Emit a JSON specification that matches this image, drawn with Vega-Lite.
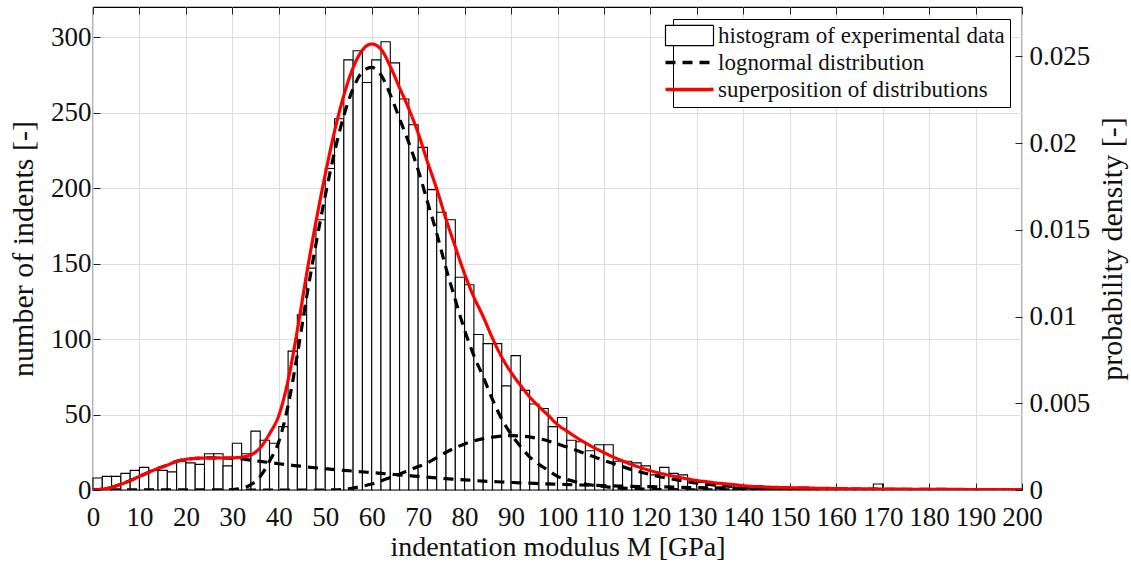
{
"$schema": "https://vega.github.io/schema/vega-lite/v6.json",
"width": 929, "height": 483,
"autosize": {"type": "none"},
"padding": {"left": 93, "top": 7, "right": 109, "bottom": 72},
"background": "white",
"config": {
  "font": "Liberation Serif",
  "view": {"stroke": "black", "strokeWidth": 1.2},
  "axis": {"labelFont": "Liberation Serif", "titleFont": "Liberation Serif", "labelFontSize": 27, "titleFontSize": 30, "labelColor": "#111", "titleColor": "#111", "titleFontWeight": "normal", "domain": false, "tickColor": "#222", "tickSize": -7, "tickWidth": 1, "gridColor": "#dedede", "gridWidth": 1}
},
"datasets": {
  "hist": [
{"lo":0,"hi":2,"n":8},{"lo":2,"hi":4,"n":9},{"lo":4,"hi":6,"n":9},{"lo":6,"hi":8,"n":11},{"lo":8,"hi":10,"n":13},{"lo":10,"hi":12,"n":15},{"lo":12,"hi":14,"n":13},{"lo":14,"hi":16,"n":13},{"lo":16,"hi":18,"n":12},{"lo":18,"hi":20,"n":19},
{"lo":20,"hi":22,"n":18},{"lo":22,"hi":24,"n":17},{"lo":24,"hi":26,"n":24},{"lo":26,"hi":28,"n":24},{"lo":28,"hi":30,"n":16},{"lo":30,"hi":32,"n":31},{"lo":32,"hi":34,"n":24},{"lo":34,"hi":36,"n":39},{"lo":36,"hi":38,"n":33},{"lo":38,"hi":40,"n":31},
{"lo":40,"hi":42,"n":42},{"lo":42,"hi":44,"n":92},{"lo":44,"hi":46,"n":116},{"lo":46,"hi":48,"n":147},{"lo":48,"hi":50,"n":179},{"lo":50,"hi":52,"n":213},{"lo":52,"hi":54,"n":246},{"lo":54,"hi":56,"n":285},{"lo":56,"hi":58,"n":291},{"lo":58,"hi":60,"n":270},
{"lo":60,"hi":62,"n":285},{"lo":62,"hi":64,"n":297},{"lo":64,"hi":66,"n":283},{"lo":66,"hi":68,"n":259},{"lo":68,"hi":70,"n":242},{"lo":70,"hi":72,"n":227},{"lo":72,"hi":74,"n":199},{"lo":74,"hi":76,"n":184},{"lo":76,"hi":78,"n":179},{"lo":78,"hi":80,"n":141},
{"lo":80,"hi":82,"n":136},{"lo":82,"hi":84,"n":103},{"lo":84,"hi":86,"n":97},{"lo":86,"hi":88,"n":97},{"lo":88,"hi":90,"n":69},{"lo":90,"hi":92,"n":89},{"lo":92,"hi":94,"n":66},{"lo":94,"hi":96,"n":57},{"lo":96,"hi":98,"n":54},{"lo":98,"hi":100,"n":42},
{"lo":100,"hi":102,"n":48},{"lo":102,"hi":104,"n":33},{"lo":104,"hi":106,"n":32},{"lo":106,"hi":108,"n":26},{"lo":108,"hi":110,"n":30},{"lo":110,"hi":112,"n":30},{"lo":112,"hi":114,"n":19},{"lo":114,"hi":116,"n":19},{"lo":116,"hi":118,"n":18},{"lo":118,"hi":120,"n":16},
{"lo":120,"hi":122,"n":10},{"lo":122,"hi":124,"n":15},{"lo":124,"hi":126,"n":11},{"lo":126,"hi":128,"n":10},{"lo":128,"hi":130,"n":7},{"lo":130,"hi":132,"n":5},{"lo":132,"hi":134,"n":4},{"lo":134,"hi":136,"n":4},{"lo":136,"hi":138,"n":3},{"lo":138,"hi":140,"n":3},
{"lo":140,"hi":142,"n":3},{"lo":142,"hi":144,"n":3},{"lo":144,"hi":146,"n":2},{"lo":146,"hi":148,"n":2},{"lo":148,"hi":150,"n":2},{"lo":150,"hi":152,"n":1},{"lo":152,"hi":154,"n":2},{"lo":154,"hi":156,"n":1},{"lo":156,"hi":158,"n":1},{"lo":158,"hi":160,"n":1},
{"lo":160,"hi":162,"n":1},{"lo":162,"hi":164,"n":1},{"lo":164,"hi":166,"n":1},{"lo":166,"hi":168,"n":1},{"lo":168,"hi":170,"n":4},{"lo":170,"hi":172,"n":1},{"lo":172,"hi":174,"n":0},{"lo":174,"hi":176,"n":1},{"lo":176,"hi":178,"n":1},{"lo":178,"hi":180,"n":0},
{"lo":180,"hi":182,"n":1},{"lo":182,"hi":184,"n":0},{"lo":184,"hi":186,"n":1},{"lo":186,"hi":188,"n":0},{"lo":188,"hi":190,"n":1},{"lo":190,"hi":192,"n":0},{"lo":192,"hi":194,"n":0},{"lo":194,"hi":196,"n":1},{"lo":196,"hi":198,"n":0},{"lo":198,"hi":200,"n":1}
  ],
  "curves": [
{"c":"L1","t":"L","x":0,"p":0},{"c":"L1","t":"L","x":2,"p":0.0000522},{"c":"L1","t":"L","x":4,"p":0.000157},{"c":"L1","t":"L","x":6,"p":0.000331},{"c":"L1","t":"L","x":8,"p":0.00054},{"c":"L1","t":"L","x":10,"p":0.000783},{"c":"L1","t":"L","x":12,"p":0.001027},{"c":"L1","t":"L","x":14,"p":0.001244},{"c":"L1","t":"L","x":16,"p":0.001436},{"c":"L1","t":"L","x":18,"p":0.001653},{"c":"L1","t":"L","x":20,"p":0.001767},{"c":"L1","t":"L","x":22,"p":0.001819},{"c":"L1","t":"L","x":24,"p":0.001845},{"c":"L1","t":"L","x":26,"p":0.001854},{"c":"L1","t":"L","x":28,"p":0.001845},{"c":"L1","t":"L","x":30,"p":0.001828},{"c":"L1","t":"L","x":32,"p":0.001793},{"c":"L1","t":"L","x":34,"p":0.001714},{"c":"L1","t":"L","x":36,"p":0.001653},{"c":"L1","t":"L","x":38,"p":0.001584},{"c":"L1","t":"L","x":40,"p":0.001514},{"c":"L1","t":"L","x":42,"p":0.001453},{"c":"L1","t":"L","x":44,"p":0.001392},{"c":"L1","t":"L","x":46,"p":0.001331},{"c":"L1","t":"L","x":48,"p":0.001279},{"c":"L1","t":"L","x":50,"p":0.001227},{"c":"L1","t":"L","x":52,"p":0.001175},{"c":"L1","t":"L","x":54,"p":0.001131},{"c":"L1","t":"L","x":56,"p":0.001088},{"c":"L1","t":"L","x":58,"p":0.001044},{"c":"L1","t":"L","x":60,"p":0.001001},{"c":"L1","t":"L","x":62,"p":0.000957},{"c":"L1","t":"L","x":64,"p":0.000914},{"c":"L1","t":"L","x":66,"p":0.00087},{"c":"L1","t":"L","x":68,"p":0.000827},{"c":"L1","t":"L","x":70,"p":0.000783},{"c":"L1","t":"L","x":72,"p":0.00074},{"c":"L1","t":"L","x":74,"p":0.000696},{"c":"L1","t":"L","x":76,"p":0.000653},{"c":"L1","t":"L","x":78,"p":0.000618},{"c":"L1","t":"L","x":80,"p":0.000583},{"c":"L1","t":"L","x":82,"p":0.000548},{"c":"L1","t":"L","x":84,"p":0.000513},{"c":"L1","t":"L","x":86,"p":0.000487},{"c":"L1","t":"L","x":88,"p":0.000461},{"c":"L1","t":"L","x":90,"p":0.000435},{"c":"L1","t":"L","x":92,"p":0.000409},{"c":"L1","t":"L","x":94,"p":0.000392},{"c":"L1","t":"L","x":96,"p":0.000366},{"c":"L1","t":"L","x":98,"p":0.000348},{"c":"L1","t":"L","x":100,"p":0.000331},{"c":"L1","t":"L","x":105,"p":0.000287},{"c":"L1","t":"L","x":110,"p":0.000252},{"c":"L1","t":"L","x":115,"p":0.000218},{"c":"L1","t":"L","x":120,"p":0.000191},{"c":"L1","t":"L","x":125,"p":0.000165},{"c":"L1","t":"L","x":130,"p":0.000139},{"c":"L1","t":"L","x":135,"p":0.000122},{"c":"L1","t":"L","x":140,"p":0.000104},{"c":"L1","t":"L","x":150,"p":0.0000783},{"c":"L1","t":"L","x":160,"p":0.000061},{"c":"L1","t":"L","x":170,"p":0.0000435},{"c":"L1","t":"L","x":180,"p":0.0000348},{"c":"L1","t":"L","x":190,"p":0.0000261},{"c":"L1","t":"L","x":200,"p":0.0000218},
{"c":"L2","t":"L","x":0,"p":0},{"c":"L2","t":"L","x":28,"p":0},{"c":"L2","t":"L","x":30,"p":0.000026},{"c":"L2","t":"L","x":32,"p":0.000104},{"c":"L2","t":"L","x":34,"p":0.000305},{"c":"L2","t":"L","x":36,"p":0.000783},{"c":"L2","t":"L","x":38,"p":0.001653},{"c":"L2","t":"L","x":40,"p":0.002785},{"c":"L2","t":"L","x":42,"p":0.004873},{"c":"L2","t":"L","x":44,"p":0.007832},{"c":"L2","t":"L","x":46,"p":0.011139},{"c":"L2","t":"L","x":48,"p":0.014185},{"c":"L2","t":"L","x":50,"p":0.01697},{"c":"L2","t":"L","x":52,"p":0.019494},{"c":"L2","t":"L","x":54,"p":0.021582},{"c":"L2","t":"L","x":56,"p":0.023149},{"c":"L2","t":"L","x":58,"p":0.024106},{"c":"L2","t":"L","x":60,"p":0.024367},{"c":"L2","t":"L","x":62,"p":0.023932},{"c":"L2","t":"L","x":64,"p":0.022801},{"c":"L2","t":"L","x":66,"p":0.021408},{"c":"L2","t":"L","x":68,"p":0.020016},{"c":"L2","t":"L","x":70,"p":0.018449},{"c":"L2","t":"L","x":72,"p":0.016622},{"c":"L2","t":"L","x":74,"p":0.014794},{"c":"L2","t":"L","x":76,"p":0.012793},{"c":"L2","t":"L","x":78,"p":0.010965},{"c":"L2","t":"L","x":80,"p":0.009225},{"c":"L2","t":"L","x":82,"p":0.007745},{"c":"L2","t":"L","x":84,"p":0.006527},{"c":"L2","t":"L","x":86,"p":0.005222},{"c":"L2","t":"L","x":88,"p":0.00409},{"c":"L2","t":"L","x":90,"p":0.00322},{"c":"L2","t":"L","x":92,"p":0.002524},{"c":"L2","t":"L","x":94,"p":0.001915},{"c":"L2","t":"L","x":96,"p":0.001479},{"c":"L2","t":"L","x":98,"p":0.001131},{"c":"L2","t":"L","x":100,"p":0.000783},{"c":"L2","t":"L","x":102,"p":0.000609},{"c":"L2","t":"L","x":104,"p":0.000461},{"c":"L2","t":"L","x":106,"p":0.000348},{"c":"L2","t":"L","x":108,"p":0.000261},{"c":"L2","t":"L","x":110,"p":0.0002},{"c":"L2","t":"L","x":112,"p":0.000139},{"c":"L2","t":"L","x":114,"p":0.000104},{"c":"L2","t":"L","x":116,"p":0.0000783},{"c":"L2","t":"L","x":118,"p":0.0000522},{"c":"L2","t":"L","x":120,"p":0.0000392},{"c":"L2","t":"L","x":125,"p":0.0000174},{"c":"L2","t":"L","x":130,"p":0.0000087},{"c":"L2","t":"L","x":140,"p":0.0000017},{"c":"L2","t":"L","x":150,"p":0},{"c":"L2","t":"L","x":200,"p":0},
{"c":"L3","t":"L","x":0,"p":0},{"c":"L3","t":"L","x":50,"p":0},{"c":"L3","t":"L","x":52,"p":0.0000087},{"c":"L3","t":"L","x":54,"p":0.0000435},{"c":"L3","t":"L","x":56,"p":0.000113},{"c":"L3","t":"L","x":58,"p":0.000218},{"c":"L3","t":"L","x":60,"p":0.000348},{"c":"L3","t":"L","x":62,"p":0.000522},{"c":"L3","t":"L","x":64,"p":0.000714},{"c":"L3","t":"L","x":66,"p":0.000914},{"c":"L3","t":"L","x":68,"p":0.001131},{"c":"L3","t":"L","x":70,"p":0.001349},{"c":"L3","t":"L","x":72,"p":0.001566},{"c":"L3","t":"L","x":74,"p":0.001871},{"c":"L3","t":"L","x":76,"p":0.002176},{"c":"L3","t":"L","x":78,"p":0.002437},{"c":"L3","t":"L","x":80,"p":0.002654},{"c":"L3","t":"L","x":82,"p":0.002828},{"c":"L3","t":"L","x":84,"p":0.002959},{"c":"L3","t":"L","x":86,"p":0.003046},{"c":"L3","t":"L","x":88,"p":0.003107},{"c":"L3","t":"L","x":90,"p":0.003133},{"c":"L3","t":"L","x":92,"p":0.003115},{"c":"L3","t":"L","x":94,"p":0.003063},{"c":"L3","t":"L","x":96,"p":0.002959},{"c":"L3","t":"L","x":98,"p":0.002828},{"c":"L3","t":"L","x":100,"p":0.002654},{"c":"L3","t":"L","x":102,"p":0.00248},{"c":"L3","t":"L","x":104,"p":0.002289},{"c":"L3","t":"L","x":106,"p":0.002089},{"c":"L3","t":"L","x":108,"p":0.001897},{"c":"L3","t":"L","x":110,"p":0.001706},{"c":"L3","t":"L","x":112,"p":0.001523},{"c":"L3","t":"L","x":114,"p":0.001349},{"c":"L3","t":"L","x":116,"p":0.001175},{"c":"L3","t":"L","x":118,"p":0.001027},{"c":"L3","t":"L","x":120,"p":0.000888},{"c":"L3","t":"L","x":122,"p":0.000766},{"c":"L3","t":"L","x":124,"p":0.000661},{"c":"L3","t":"L","x":126,"p":0.000566},{"c":"L3","t":"L","x":128,"p":0.000479},{"c":"L3","t":"L","x":130,"p":0.0004},{"c":"L3","t":"L","x":132,"p":0.000339},{"c":"L3","t":"L","x":134,"p":0.000278},{"c":"L3","t":"L","x":136,"p":0.000235},{"c":"L3","t":"L","x":138,"p":0.000191},{"c":"L3","t":"L","x":140,"p":0.000139},{"c":"L3","t":"L","x":145,"p":0.0000783},{"c":"L3","t":"L","x":150,"p":0.0000522},{"c":"L3","t":"L","x":155,"p":0.0000348},{"c":"L3","t":"L","x":160,"p":0.0000218},{"c":"L3","t":"L","x":170,"p":0.0000087},{"c":"L3","t":"L","x":180,"p":0.0000035},{"c":"L3","t":"L","x":200,"p":0.0000009},
{"c":"S","t":"S","x":0,"p":0},{"c":"S","t":"S","x":2,"p":0.0000522},{"c":"S","t":"S","x":4,"p":0.000157},{"c":"S","t":"S","x":6,"p":0.000331},{"c":"S","t":"S","x":8,"p":0.00054},{"c":"S","t":"S","x":10,"p":0.000783},{"c":"S","t":"S","x":12,"p":0.001027},{"c":"S","t":"S","x":14,"p":0.001244},{"c":"S","t":"S","x":16,"p":0.001436},{"c":"S","t":"S","x":18,"p":0.001653},{"c":"S","t":"S","x":20,"p":0.001767},{"c":"S","t":"S","x":22,"p":0.001819},{"c":"S","t":"S","x":24,"p":0.001845},{"c":"S","t":"S","x":26,"p":0.001854},{"c":"S","t":"S","x":28,"p":0.001845},{"c":"S","t":"S","x":30,"p":0.001854},{"c":"S","t":"S","x":32,"p":0.001897},{"c":"S","t":"S","x":34,"p":0.002019},{"c":"S","t":"S","x":36,"p":0.002437},{"c":"S","t":"S","x":38,"p":0.003237},{"c":"S","t":"S","x":40,"p":0.004299},{"c":"S","t":"S","x":42,"p":0.006327},{"c":"S","t":"S","x":44,"p":0.009225},{"c":"S","t":"S","x":46,"p":0.01247},{"c":"S","t":"S","x":48,"p":0.015464},{"c":"S","t":"S","x":50,"p":0.018197},{"c":"S","t":"S","x":52,"p":0.020677},{"c":"S","t":"S","x":54,"p":0.022757},{"c":"S","t":"S","x":56,"p":0.02435},{"c":"S","t":"S","x":58,"p":0.025368},{"c":"S","t":"S","x":60,"p":0.025716},{"c":"S","t":"S","x":62,"p":0.025411},{"c":"S","t":"S","x":64,"p":0.024428},{"c":"S","t":"S","x":66,"p":0.023192},{"c":"S","t":"S","x":68,"p":0.021974},{"c":"S","t":"S","x":70,"p":0.020581},{"c":"S","t":"S","x":72,"p":0.018928},{"c":"S","t":"S","x":74,"p":0.017361},{"c":"S","t":"S","x":76,"p":0.015621},{"c":"S","t":"S","x":78,"p":0.01402},{"c":"S","t":"S","x":80,"p":0.012462},{"c":"S","t":"S","x":82,"p":0.011122},{"c":"S","t":"S","x":84,"p":0.009999},{"c":"S","t":"S","x":86,"p":0.008755},{"c":"S","t":"S","x":88,"p":0.007658},{"c":"S","t":"S","x":90,"p":0.006788},{"c":"S","t":"S","x":92,"p":0.006048},{"c":"S","t":"S","x":94,"p":0.005369},{"c":"S","t":"S","x":96,"p":0.004804},{"c":"S","t":"S","x":98,"p":0.004308},{"c":"S","t":"S","x":100,"p":0.003768},{"c":"S","t":"S","x":102,"p":0.003403},{"c":"S","t":"S","x":104,"p":0.003046},{"c":"S","t":"S","x":106,"p":0.002715},{"c":"S","t":"S","x":108,"p":0.002424},{"c":"S","t":"S","x":110,"p":0.002158},{"c":"S","t":"S","x":112,"p":0.001901},{"c":"S","t":"S","x":114,"p":0.00168},{"c":"S","t":"S","x":116,"p":0.001466},{"c":"S","t":"S","x":118,"p":0.001279},{"c":"S","t":"S","x":120,"p":0.001118},{"c":"S","t":"S","x":122,"p":0.000975},{"c":"S","t":"S","x":124,"p":0.000853},{"c":"S","t":"S","x":126,"p":0.000744},{"c":"S","t":"S","x":128,"p":0.00064},{"c":"S","t":"S","x":130,"p":0.000548},{"c":"S","t":"S","x":132,"p":0.000481},{"c":"S","t":"S","x":134,"p":0.000409},{"c":"S","t":"S","x":136,"p":0.000356},{"c":"S","t":"S","x":138,"p":0.000307},{"c":"S","t":"S","x":140,"p":0.000245},{"c":"S","t":"S","x":145,"p":0.00017},{"c":"S","t":"S","x":150,"p":0.000131},{"c":"S","t":"S","x":155,"p":0.000104},{"c":"S","t":"S","x":160,"p":0.0000827},{"c":"S","t":"S","x":165,"p":0.0000653},{"c":"S","t":"S","x":170,"p":0.0000522},{"c":"S","t":"S","x":175,"p":0.0000444},{"c":"S","t":"S","x":180,"p":0.0000383},{"c":"S","t":"S","x":185,"p":0.0000331},{"c":"S","t":"S","x":190,"p":0.0000278},{"c":"S","t":"S","x":195,"p":0.0000244},{"c":"S","t":"S","x":200,"p":0.0000226}
  ]
},
"layer": [
  {
    "data": {"name": "hist"},
    "mark": {"type": "bar", "fill": "white", "stroke": "black", "strokeWidth": 1.1},
    "encoding": {
      "x": {"field": "lo", "type": "quantitative", "scale": {"domain": [0, 200], "nice": false, "zero": false},
        "axis": {"orient": "bottom", "values": [0,10,20,30,40,50,60,70,80,90,100,110,120,130,140,150,160,170,180,190,200], "grid": true, "labelPadding": 21, "title": "indentation modulus  M  [GPa]", "titleFontSize": 28, "titlePadding": 3, "labelFlush": false}},
      "x2": {"field": "hi"},
      "y": {"field": "n", "type": "quantitative", "scale": {"domain": [0, 320], "nice": false},
        "axis": {"orient": "left", "values": [0,50,100,150,200,250,300], "grid": true, "labelPadding": 9, "title": "number of indents [-]", "titlePadding": 12}},
      "y2": {"datum": 0}
    }
  },
  {
    "data": {"name": "curves"},
    "mark": {"type": "line", "strokeWidth": 3.2, "interpolate": "monotone", "clip": true},
    "encoding": {
      "x": {"field": "x", "type": "quantitative", "scale": {"domain": [0, 200], "nice": false, "zero": false},
        "axis": {"orient": "top", "values": [0,10,20,30,40,50,60,70,80,90,100,110,120,130,140,150,160,170,180,190,200], "labels": false, "grid": false, "title": null}},
      "y": {"field": "p", "type": "quantitative", "scale": {"domain": [0, 0.02785], "nice": false},
        "axis": {"orient": "right", "values": [0,0.005,0.01,0.015,0.02,0.025], "format": "~g", "grid": false, "labelPadding": 14, "title": "probability density [-]", "titleAngle": 270, "titleBaseline": "top", "titlePadding": 8}},
      "detail": {"field": "c", "type": "nominal"},
      "stroke": {"field": "t", "type": "nominal", "scale": {"domain": ["H", "L", "S"], "range": ["black", "black", "red"]},
        "legend": {"title": null, "orient": "top-right", "offset": 12, "strokeColor": "black", "fillColor": "white", "padding": 5, "rowPadding": 3, "labelFont": "Liberation Serif", "labelFontSize": 23, "labelColor": "#111", "labelLimit": 0, "labelOffset": 17, "symbolType": "stroke", "symbolSize": 2304, "symbolStrokeWidth": 3.5,
          "labelExpr": "datum.value === 'H' ? 'histogram of experimental data' : datum.value === 'L' ? 'lognormal distribution' : 'superposition of distributions'",
          "encode": {"symbols": {"update": {
            "shape": {"signal": "datum.value === 'H' ? 'M-1,-0.42H1V0.42H-1Z' : 'stroke'"},
            "fill": {"signal": "datum.value === 'H' ? 'white' : 'transparent'"},
            "strokeWidth": {"signal": "datum.value === 'H' ? 1.2 : 3.5"}
          }}}}},
      "strokeDash": {"field": "t", "type": "nominal", "scale": {"domain": ["H", "L", "S"], "range": [[1, 0], [10, 7], [1, 0]]}}
    }
  }
],
"resolve": {"scale": {"y": "independent"}, "axis": {"x": "independent", "y": "independent"}}
}
